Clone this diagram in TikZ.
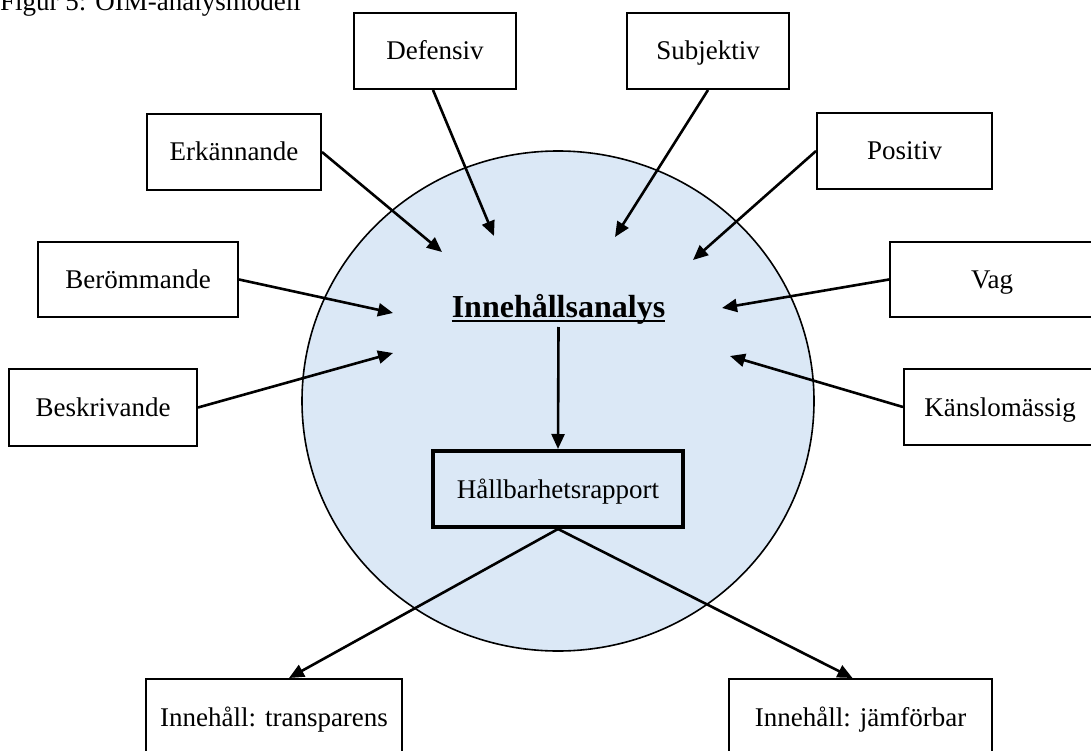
\documentclass[tikz,border=0pt]{standalone}
\usepackage{fontspec}
\setmainfont{Liberation Serif}
\usetikzlibrary{arrows.meta,shapes.geometric}
\definecolor{circfill}{RGB}{219,232,246}
\begin{document}
\begin{tikzpicture}[x=1pt,y=-1pt,
  box/.style={draw,line width=2pt,fill=white,minimum height=76pt,inner sep=0pt,
    text height=18pt,text depth=0pt,font=\fontsize{27}{32}\selectfont},
  arr/.style={line width=2.6pt,-{Triangle[length=15pt,width=13pt]}}]
\useasboundingbox (0,0) rectangle (1091,751);
% title (cut at top)
\node[anchor=base west,inner sep=0pt,font=\fontsize{27}{32}\selectfont] (title) at (0,11) {Figur 5: OIM-analysmodell};
% circle
\node[draw,line width=1.6pt,fill=circfill,ellipse,minimum width=512pt,minimum height=500pt,inner sep=0pt] (circ) at (558,401) {};
% boxes
\node[box,minimum width=162pt] (def) at (435,51) {Defensiv};
\node[box,minimum width=162pt] (sub) at (708,51) {Subjektiv};
\node[box,minimum width=174pt] (erk) at (234,152) {Erkännande};
\node[box,minimum width=175pt] (pos) at (904.5,151) {Positiv};
\node[box,minimum width=200pt,minimum height=75pt] (ber) at (138,279.5) {Berömmande};
\node[box,minimum width=204pt,minimum height=75pt] (vag) at (992,279.5) {Vag};
\node[box,minimum width=192pt,minimum height=76pt] (kans) at (1000,407) {Känslomässig};
\node[box,minimum width=188pt,minimum height=77pt] (besk) at (103,407.5) {Beskrivande};
\node[box,line width=4pt,fill=none,minimum width=250pt] (hall) at (558,489) {Hållbarhetsrapport};
\node[box,minimum width=256pt] (tra) at (274,717) {Innehåll: transparens};
\node[box,minimum width=263pt] (jam) at (860.5,717) {Innehåll: jämförbar};
% centre text
\node[anchor=base,inner sep=0pt,font=\fontsize{32}{38}\selectfont\bfseries] (ia) at (558.5,317) {Innehållsanalys};
\draw[line width=2pt] ([yshift=-3.5pt]ia.base west) -- ([yshift=-3.5pt]ia.base east);
% arrow tips
\coordinate (terk) at (442,252);
\coordinate (tdef) at (494,236);
\coordinate (tsub) at (615,237);
\coordinate (tpos) at (693,260);
\coordinate (tber) at (393,313);
\coordinate (tvag) at (722,308);
\coordinate (tbesk) at (393,353);
\coordinate (tkans) at (730,356);
\draw[arr] (erk.east) -- (terk);
\draw[arr] ([xshift=-2pt]def.south) -- (tdef);
\draw[arr] (sub.south) -- (tsub);
\draw[arr] (pos.west) -- (tpos);
\draw[arr] (ber.east) -- (tber);
\draw[arr] (vag.west) -- (tvag);
\draw[arr] (besk.east) -- (tbesk);
\draw[arr] (kans.west) -- (tkans);
\draw[arr] ([yshift=-10pt]ia.base) -- (hall.north);
\draw[arr] (hall.south) -- ([xshift=15pt]tra.north);
\draw[arr] (hall.south) -- ([xshift=-8pt]jam.north);
\end{tikzpicture}
\end{document}
